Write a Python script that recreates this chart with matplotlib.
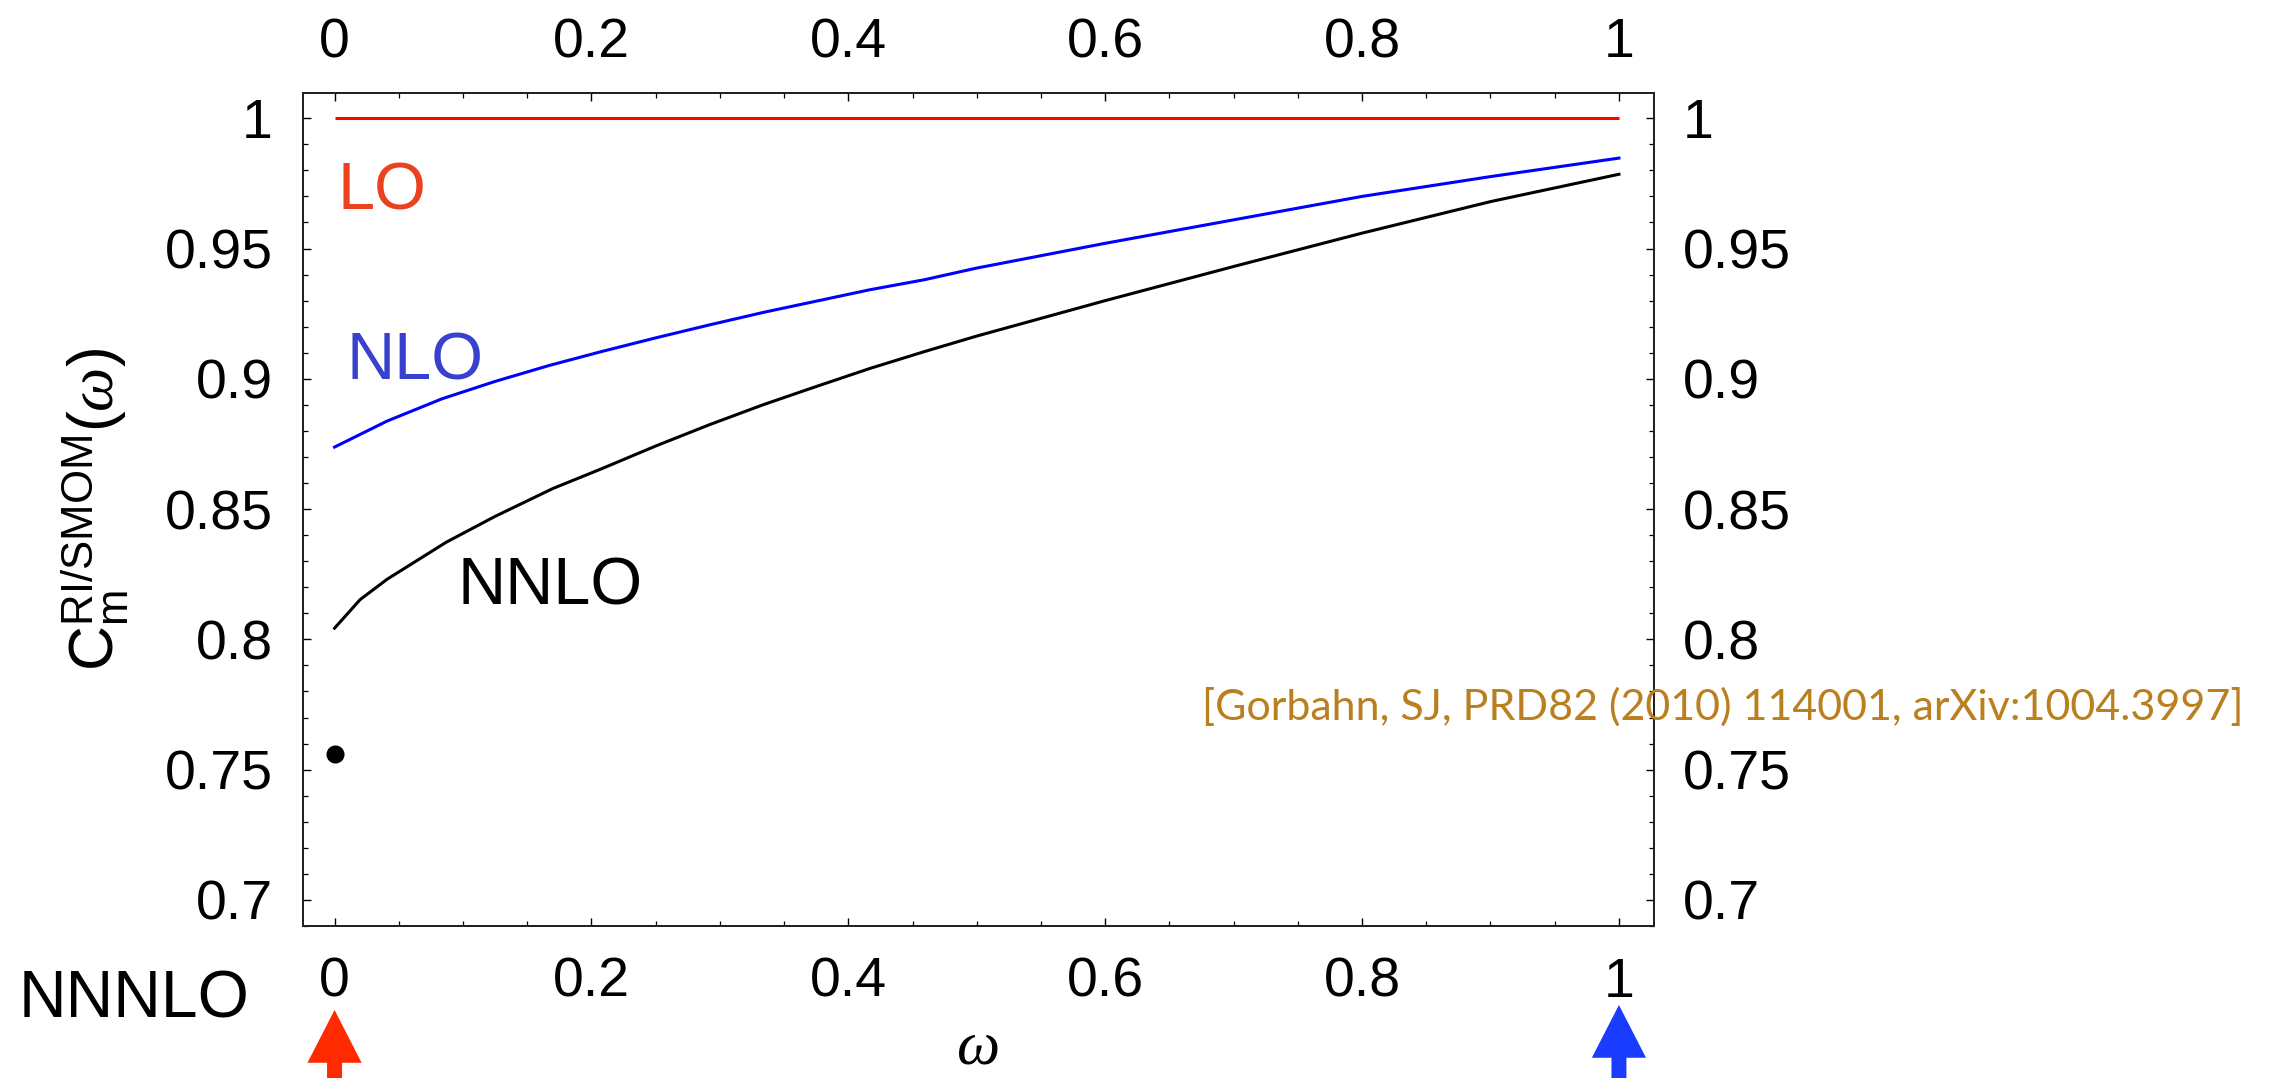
import numpy as np
import matplotlib
matplotlib.use("Agg")
import matplotlib.pyplot as plt
from matplotlib.ticker import MultipleLocator, FuncFormatter

plt.rcParams['font.family'] = ['Liberation Sans', 'DejaVu Sans']
plt.rcParams['mathtext.fontset'] = 'custom'
plt.rcParams['mathtext.rm'] = 'Liberation Sans'
plt.rcParams['mathtext.it'] = 'Liberation Serif:italic'
plt.rcParams['mathtext.bf'] = 'Liberation Sans:bold'

# ---- data ----
lo_omega = [0.0, 1.0]
lo_vals = [1.0, 1.0]

nlo_omega = [0.0, 0.041, 0.0835, 0.125, 0.167, 0.209, 0.25, 0.292, 0.334, 0.376,
             0.417, 0.459, 0.5, 0.6, 0.7, 0.8, 0.9, 1.0]
nlo_vals = [0.8738, 0.8838, 0.8923, 0.899, 0.9051, 0.9106, 0.9157, 0.9207, 0.9255, 0.9299,
            0.9342, 0.938, 0.9425, 0.952, 0.961, 0.970, 0.9776, 0.9847]

nnlo_omega = [0.0, 0.02, 0.041, 0.087, 0.125, 0.17, 0.209, 0.25, 0.292, 0.334, 0.376,
              0.417, 0.459, 0.5, 0.6, 0.7, 0.8, 0.9, 1.0]
nnlo_vals = [0.8043, 0.8153, 0.8231, 0.8373, 0.8472, 0.8579, 0.8657, 0.8742, 0.8824, 0.8901,
             0.8972, 0.904, 0.9104, 0.9164, 0.930, 0.9431, 0.9559, 0.968, 0.9785]

nnnlo_omega = [0.0]
nnnlo_vals = [0.756]

x_ticks = [0, 0.2, 0.4, 0.6, 0.8, 1.0]
y_ticks = [0.7, 0.75, 0.8, 0.85, 0.9, 0.95, 1.0]

citation = "[Gorbahn, SJ, PRD82 (2010) 114001, arXiv:1004.3997]"

# ---- figure ----
W, H = 2269, 1078
fig = plt.figure(figsize=(W / 100, H / 100), dpi=100)
ax = fig.add_axes([302.7 / W, 1 - 926 / H, (1654 - 302.7) / W, (926 - 92.7) / H])

ax.plot(lo_omega, lo_vals, color='#ff0000', lw=2.2, solid_capstyle='butt')
ax.plot(nlo_omega, nlo_vals, color='#0000ff', lw=2.2)
ax.plot(nnlo_omega, nnlo_vals, color='black', lw=2.2)
ax.plot(nnnlo_omega, nnnlo_vals, 'o', color='black', ms=12)

xlim = (-0.0248, 1.0273)
ylim = (0.690, 1.0098)
ax.set_xlim(*xlim)
ax.set_ylim(*ylim)

fmt = FuncFormatter(lambda v, p: '{:g}'.format(round(v, 3)))
TFS = 40


def style(a, which_axis):
    if which_axis in ('x', 'both'):
        a.set_xticks(x_ticks)
        a.xaxis.set_minor_locator(MultipleLocator(0.05))
        a.xaxis.set_major_formatter(fmt)
    if which_axis in ('y', 'both'):
        a.set_yticks(y_ticks)
        a.yaxis.set_minor_locator(MultipleLocator(0.01))
        a.yaxis.set_major_formatter(fmt)
    a.tick_params(which='major', direction='in', length=5.8, width=1.0, labelsize=TFS, colors='black')
    a.tick_params(which='minor', direction='in', length=3.6, width=0.9)


style(ax, 'both')
ax.tick_params(axis='x', which='both', top=False, bottom=True, pad=22)
ax.tick_params(axis='y', which='both', left=True, right=False, pad=21.5)

axt = ax.twiny()
axt.set_xlim(*xlim)
style(axt, 'x')
axt.tick_params(axis='x', which='both', top=True, bottom=False, labeltop=True, labelbottom=False, pad=17)

axr = ax.twinx()
axr.set_ylim(*ylim)
style(axr, 'y')
axr.tick_params(axis='y', which='both', right=True, left=False, labelright=True, labelleft=False, pad=21)

for a in (ax, axt, axr):
    for s in a.spines.values():
        s.set_linewidth(1.4)
        s.set_color('#222222')

# curve labels
ax.text(0.002, 0.965, 'LO', color='#EB411E', fontsize=48, ha='left', va='baseline')
ax.text(0.0093, 0.8996, 'NLO', color='#3741CD', fontsize=48, ha='left', va='baseline')
ax.text(0.0957, 0.8132, 'NNLO', color='black', fontsize=48, ha='left', va='baseline')

# outside texts
fig.text(19 / W, 1 - 1017 / H, 'NNNLO', fontsize=47.5, ha='left', va='baseline')
fig.text(977 / W, 1 - 1076 / H, r'$\omega$', fontsize=44, ha='center', va='bottom')
fig.text(94 / W, 1 - 510 / H, r'$\mathrm{C}_{\mathrm{m}}^{\mathrm{RI/SMOM}}(\omega)$',
         fontsize=45, rotation=90, ha='center', va='center')

cit = fig.text(2243 / W, 1 - 720 / H, citation, color='#BA7F1F', fontsize=30,
               family=['Lato', 'DejaVu Sans'], ha='right', va='baseline')
fig.canvas.draw()
bb = cit.get_window_extent(fig.canvas.get_renderer())
cit.set_fontsize(30 * 1043 / bb.width)

# arrows marking omega = 0 and omega = 1
for xv, tip, col in ((0.0, 1 - 1010 / H, '#FF2A00'), (1.0, 1 - 1005 / H, '#1A3CFF')):
    ax.annotate('', xy=(xv, tip), xycoords=('data', 'figure fraction'),
                xytext=(xv, -0.02), textcoords=('data', 'figure fraction'),
                arrowprops=dict(facecolor=col, edgecolor='none', width=10.8,
                                headwidth=39, headlength=38, shrink=0),
                annotation_clip=False)

fig.savefig('out.png', dpi=100)
